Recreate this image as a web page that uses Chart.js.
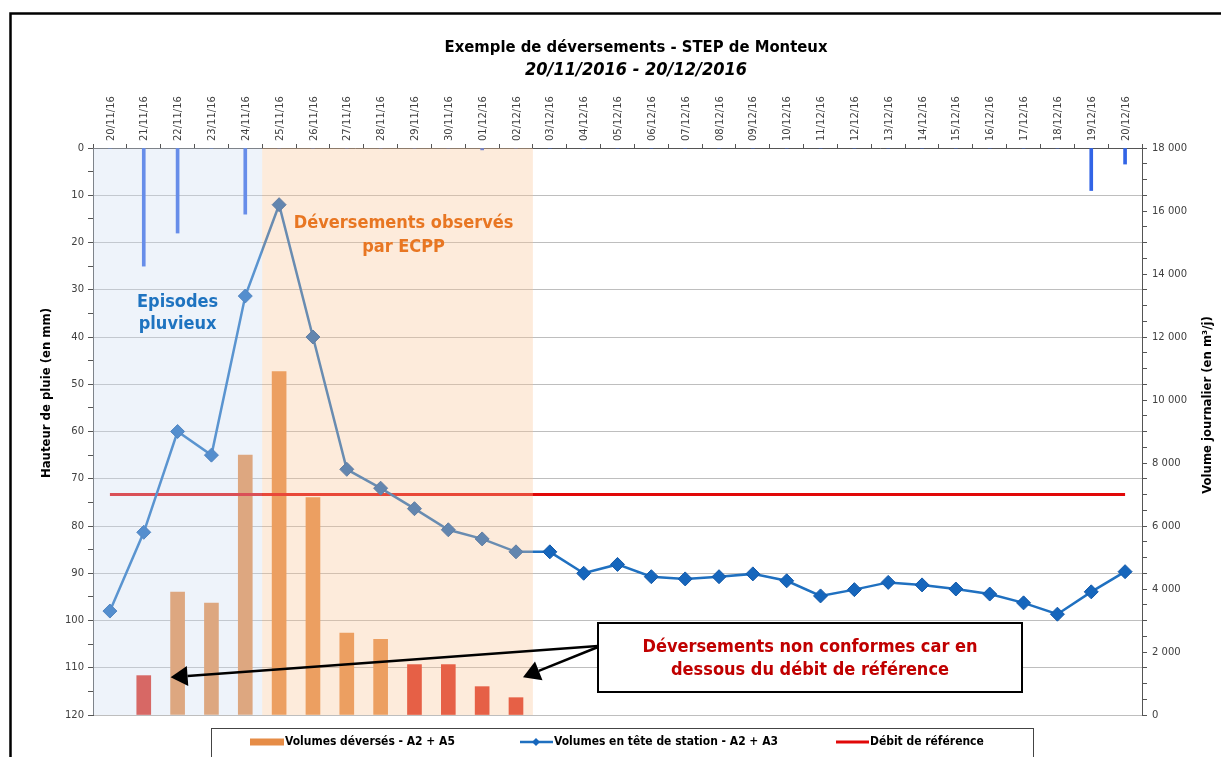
<!DOCTYPE html>
<html>
<head>
<meta charset="utf-8">
<script src="https://cdn.jsdelivr.net/npm/chart.js@4.4.1/dist/chart.umd.min.js"></script>
<style>
  html, body { margin: 0; padding: 0; background: #fff; }
  #wrap { width: 1221px; height: 757px; position: relative; }
</style>
</head>
<body>
<div id="wrap"><canvas id="c" width="1221" height="757"></canvas></div>
<script>
// Days of the observation period
const dates = [
  '20/11/16','21/11/16','22/11/16','23/11/16','24/11/16','25/11/16','26/11/16','27/11/16',
  '28/11/16','29/11/16','30/11/16','01/12/16','02/12/16','03/12/16','04/12/16','05/12/16',
  '06/12/16','07/12/16','08/12/16','09/12/16','10/12/16','11/12/16','12/12/16','13/12/16',
  '14/12/16','15/12/16','16/12/16','17/12/16','18/12/16','19/12/16','20/12/16'
];

// Rainfall (mm), hanging from the top of the left axis
const pluie = [
  0, 25, 18, 0, 14, 0, 0, 0, 0, 0, 0, 0.4, 0, 0, 0, 0,
  0, 0, 0, 0, 0, 0, 0, 0, 0, 0, 0, 0, 0, 9, 3.4
];

// Overflow volumes A2 + A5 (m3/j)
const volumesDeverses = [
  null, 1250, 3900, 3550, 8250, 10900, 6900, 2600, 2400, 1600, 1600, 900, 550, null, null, null,
  null, null, null, null, null, null, null, null, null, null, null, null, null, null, null
];

// Overflows below the reference flow
const deversementsNonConformes = ['21/11/16', '29/11/16', '30/11/16', '01/12/16', '02/12/16'];

// Inflow at the head of the plant A2 + A3 (m3/j)
const volumesTete = [
  3300, 5800, 9000, 8250, 13300, 16200, 12000, 7800, 7200, 6550, 5880, 5590, 5180, 5180, 4500, 4780,
  4390, 4320, 4390, 4480, 4260, 3780, 3980, 4210, 4130, 4000, 3840, 3560, 3200, 3910, 4550
];

// Reference flow (m3/j)
const debitReference = [
  7000, 7000, 7000, 7000, 7000, 7000, 7000, 7000, 7000, 7000, 7000, 7000, 7000, 7000, 7000, 7000,
  7000, 7000, 7000, 7000, 7000, 7000, 7000, 7000, 7000, 7000, 7000, 7000, 7000, 7000, 7000
];

// Shaded periods
const periodes = [
  { from: '20/11/16', to: '24/11/16', fill: 'rgba(205,220,240,0.34)',
    text: ['Episodes', 'pluvieux'], color: 'rgb(30,115,192)', dx: 0, y: [302, 324] },
  { from: '25/11/16', to: '02/12/16', fill: 'rgba(249,196,149,0.34)',
    text: ['Déversements observés', 'par ECPP'], color: 'rgb(232,118,34)', dx: 6, y: [223, 247] }
];

const ORANGE = 'rgb(230,140,70)';
const RED_BAR = 'rgb(220,45,30)';
const RAIN = 'rgb(50,100,230)';
const BLUE = 'rgb(31,112,192)';
const BLUE_PT = 'rgb(22,102,188)';
const RED_LINE = 'rgb(225,8,8)';

const FONT_B = '"DejaVu Sans Condensed", "DejaVu Sans", sans-serif';
const FONT_T = '"DejaVu Sans", sans-serif';
const FONT_L = '"DejaVu Sans Condensed", sans-serif';

const fmtMilliers = v => String(v).replace(/\B(?=(\d{3})+(?!\d))/g, ' ');

function arrow(c, x1, y1, x2, y2) {
  const a = Math.atan2(y2 - y1, x2 - x1);
  const L = 17, W = 10;
  const bx = x2 - L * Math.cos(a), by = y2 - L * Math.sin(a);
  c.beginPath(); c.moveTo(x1, y1); c.lineTo(bx, by); c.stroke();
  c.beginPath();
  c.moveTo(x2, y2);
  c.lineTo(bx + W * Math.sin(a), by - W * Math.cos(a));
  c.lineTo(bx - W * Math.sin(a), by + W * Math.cos(a));
  c.closePath(); c.fill();
}

// narrow legend text: horizontally condensed but still plain text
function legendText(c, txt, x, y) {
  c.save();
  c.translate(x, y);
  c.scale(0.92, 1);
  c.fillText(txt, 0, 0);
  c.restore();
}

const decor = {
  id: 'decor',
  beforeDraw(chart) {
    const c = chart.ctx;
    c.save();
    c.fillStyle = '#fff';
    c.fillRect(0, 0, chart.width, chart.height);
    c.strokeStyle = '#000';
    c.lineWidth = 2.5;
    c.beginPath();
    c.moveTo(10.5, chart.height + 3);
    c.lineTo(10.5, 13.5);
    c.lineTo(chart.width + 3, 13.5);
    c.stroke();
    c.restore();
  },
  afterDatasetsDraw(chart) {
    const c = chart.ctx, x = chart.scales.x, yv = chart.scales.yVol, a = chart.chartArea;
    const step = x.getPixelForValue(1) - x.getPixelForValue(0);
    c.save();
    // shaded periods and their captions
    periodes.forEach(p => {
      const x0 = x.getPixelForValue(dates.indexOf(p.from)) - step / 2;
      const x1 = x.getPixelForValue(dates.indexOf(p.to)) + step / 2;
      c.fillStyle = p.fill;
      c.fillRect(x0, a.top, x1 - x0, a.bottom - a.top);
      c.fillStyle = p.color;
      c.font = 'bold 18px ' + FONT_B;
      c.textAlign = 'center';
      c.textBaseline = 'middle';
      p.text.forEach((t, i) => c.fillText(t, (x0 + x1) / 2 + p.dx, p.y[i]));
    });
    // call-out box with arrows towards the non-compliant overflows
    const bx = 598, by = 623, bw = 424, bh = 69;
    c.strokeStyle = '#000'; c.fillStyle = '#000'; c.lineWidth = 2.5;
    const yTip = yv.getPixelForValue(1200);
    const i1 = dates.indexOf('21/11/16'), i2 = dates.indexOf('02/12/16');
    arrow(c, bx, by + 23, x.getPixelForValue(i1) + step - 7, yTip);
    arrow(c, bx, by + 24, x.getPixelForValue(i2) + 7, yTip);
    c.fillStyle = '#fff';
    c.fillRect(bx, by, bw, bh);
    c.lineWidth = 2;
    c.strokeRect(bx, by, bw, bh);
    c.fillStyle = 'rgb(192,0,0)';
    c.font = 'bold 18px ' + FONT_B;
    c.textAlign = 'center'; c.textBaseline = 'middle';
    c.fillText('Déversements non conformes car en', bx + bw / 2, by + 24);
    c.fillText('dessous du débit de référence', bx + bw / 2, by + 47);
    c.restore();
  },
  afterDraw(chart) {
    const c = chart.ctx;
    c.save();
    c.fillStyle = '#000';
    c.textAlign = 'center'; c.textBaseline = 'middle';
    c.font = 'bold 16.5px ' + FONT_B;
    c.fillText('Exemple de déversements - STEP de Monteux', 636, 48);
    c.font = 'italic bold 18px ' + FONT_B;
    c.fillText('20/11/2016 - 20/12/2016', 636, 70);
    // axis titles
    c.font = 'bold 13px ' + FONT_B;
    c.save(); c.translate(47, 393); c.rotate(-Math.PI / 2); c.fillText('Hauteur de pluie (en mm)', 0, 0); c.restore();
    c.save(); c.translate(1208, 405); c.rotate(-Math.PI / 2); c.fillText('Volume journalier (en m³/j)', 0, 0); c.restore();
    // legend
    const ds = chart.data.datasets;
    const ly = 742;
    c.strokeStyle = '#444'; c.lineWidth = 1;
    c.strokeRect(211.5, 728.5, 822, 32);
    c.font = 'bold 13px ' + FONT_L;
    c.textAlign = 'left';
    const dv = ds.find(d => d.id === 'deverses');
    const vt = ds.find(d => d.id === 'tete');
    const dr = ds.find(d => d.id === 'reference');
    c.fillStyle = ORANGE; c.fillRect(250, ly - 3.5, 34, 7);
    c.fillStyle = '#000'; legendText(c, dv.label, 285, ly);
    c.strokeStyle = vt.borderColor; c.lineWidth = 2.5;
    c.beginPath(); c.moveTo(520, ly); c.lineTo(553, ly); c.stroke();
    c.fillStyle = vt.pointBackgroundColor;
    c.beginPath(); c.moveTo(536, ly - 4); c.lineTo(540, ly); c.lineTo(536, ly + 4); c.lineTo(532, ly); c.closePath(); c.fill();
    c.fillStyle = '#000'; legendText(c, vt.label, 554, ly);
    c.strokeStyle = dr.borderColor; c.lineWidth = 3;
    c.beginPath(); c.moveTo(836, ly); c.lineTo(869, ly); c.stroke();
    c.fillStyle = '#000'; legendText(c, dr.label, 870, ly);
    c.restore();
  }
};

new Chart(document.getElementById('c'), {
  type: 'bar',
  data: {
    labels: dates,
    datasets: [
      {
        id: 'tete', type: 'line', label: 'Volumes en tête de station - A2 + A3',
        data: volumesTete, yAxisID: 'yVol', order: 1,
        borderColor: BLUE, borderWidth: 2.5, tension: 0,
        pointStyle: 'rectRot', pointRadius: 7, pointBorderWidth: 1,
        pointBackgroundColor: BLUE_PT, pointBorderColor: 'rgb(20,90,170)'
      },
      {
        id: 'reference', type: 'line', label: 'Débit de référence',
        data: debitReference, yAxisID: 'yVol', order: 2,
        borderColor: RED_LINE, borderWidth: 3, pointRadius: 0
      },
      {
        id: 'deverses', type: 'bar', label: 'Volumes déversés - A2 + A5',
        data: volumesDeverses, yAxisID: 'yVol', order: 3, grouped: false, barThickness: 14,
        backgroundColor: dates.map(d => deversementsNonConformes.includes(d) ? RED_BAR : ORANGE)
      },
      {
        id: 'pluie', type: 'bar', label: 'Hauteur de pluie',
        data: pluie, yAxisID: 'yPluie', order: 4, grouped: false, barThickness: 3,
        backgroundColor: RAIN
      }
    ]
  },
  options: {
    responsive: false,
    animation: false,
    layout: { padding: { left: 0, right: 0, top: 0, bottom: 42 } },
    plugins: { legend: { display: false }, tooltip: { enabled: false } },
    scales: {
      x: {
        position: 'top', offset: true,
        grid: { offset: true, drawOnChartArea: false, tickLength: 4, color: '#555' },
        border: { color: '#555', width: 1 },
        ticks: { autoSkip: false, minRotation: 90, maxRotation: 90, padding: 3, labelOffset: 13,
                 color: '#404040', font: { family: FONT_T, size: 10 } },
        afterFit: s => { s.height = 148; }
      },
      yPluie: {
        position: 'left', reverse: true, min: 0, max: 120,
        grid: {
          color: ctx => (ctx.tick && ctx.tick.value % 10 === 0) ? 'rgb(190,190,190)' : 'rgba(0,0,0,0)',
          tickColor: '#555', tickLength: 5
        },
        border: { color: '#555', width: 1 },
        ticks: { stepSize: 5, padding: 4, color: '#404040', font: { family: FONT_T, size: 10 },
                 callback: v => v % 10 === 0 ? v : '' },
        afterFit: s => { s.width = 93; }
      },
      yVol: {
        position: 'right', min: 0, max: 18000,
        grid: { drawOnChartArea: false, color: '#555', tickLength: 5 },
        border: { color: '#555', width: 1 },
        ticks: { stepSize: 500, padding: 5, color: '#404040', font: { family: FONT_T, size: 10 },
                 callback: v => v % 2000 === 0 ? fmtMilliers(v) : '' },
        afterFit: s => { s.width = 79; }
      }
    }
  },
  plugins: [decor]
});
</script>
</body>
</html>
